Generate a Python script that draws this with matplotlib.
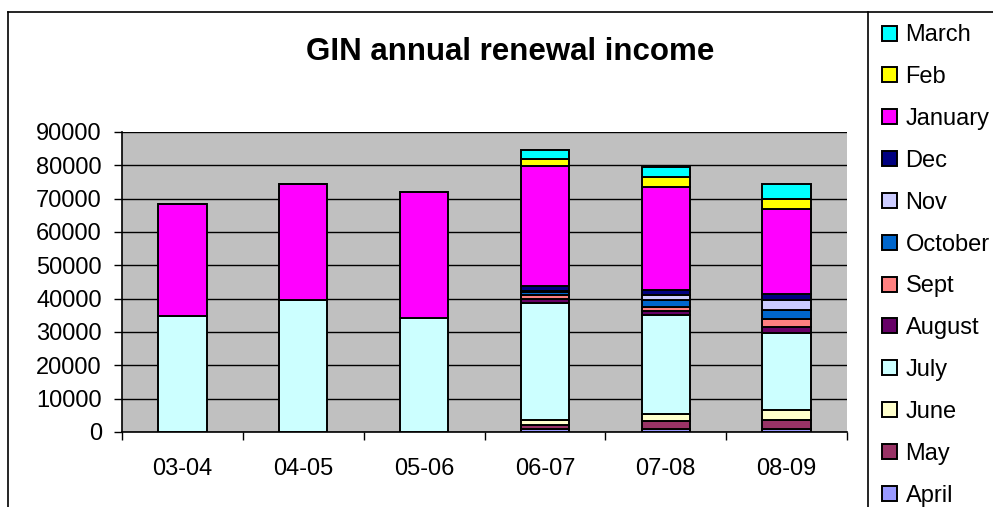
import numpy as np
import matplotlib.pyplot as plt
from matplotlib.lines import Line2D

plt.rcParams['font.family'] = ['Liberation Sans', 'DejaVu Sans']

years = ['03-04', '04-05', '05-06', '06-07', '07-08', '08-09']
months = ['April', 'May', 'June', 'July', 'August', 'Sept',
          'October', 'Nov', 'Dec', 'January', 'Feb', 'March']

april = [0, 0, 0, 1000, 900, 1000]
may = [0, 0, 0, 1100, 2400, 2600]
june = [0, 0, 0, 1500, 2100, 3000]
july = [34800, 39600, 34200, 35200, 29700, 23200]
august = [0, 0, 0, 1000, 1300, 1700]
sept = [0, 0, 0, 1200, 1000, 2500]
october = [0, 0, 0, 1100, 2100, 2600]
nov = [0, 0, 0, 300, 1600, 2900]
dec = [0, 0, 0, 1300, 1600, 1900]
january = [33600, 34700, 37800, 36200, 30800, 25600]
feb = [0, 0, 0, 2000, 3000, 3000]
march = [0, 0, 0, 2600, 3100, 4300]

series = [april, may, june, july, august, sept, october, nov, dec, january, feb, march]
colors = ['#9999FF', '#993366', '#FFFFCC', '#CCFFFF', '#660066', '#FF8080',
          '#0066CC', '#CCCCFF', '#000080', '#FF00FF', '#FFFF00', '#00FFFF']

fig = plt.figure(figsize=(9.93, 5.07), dpi=100)
ax = fig.add_axes([122 / 993, 75 / 507, 725 / 993, 300 / 507])
ax.set_facecolor('#C0C0C0')

x = np.arange(len(years))
bottom = np.zeros(len(years))
handles = []
for name, vals, col in zip(months, series, colors):
    vals = np.array(vals, dtype=float)
    b = ax.bar(x, vals, width=0.4, bottom=bottom, color=col,
               edgecolor='black', linewidth=1.4, label=name, zorder=3)
    handles.append(b)
    bottom += vals

ax.set_xlim(-0.5, len(years) - 0.5)
ax.set_ylim(0, 90000)
ax.set_yticks(np.arange(0, 90001, 10000))
ax.yaxis.grid(True, color='black', linewidth=1.0, zorder=0)
ax.set_axisbelow(True)

ax.set_xticks(x)
ax.set_xticklabels(years)
ax.set_xticks(np.arange(-0.5, len(years), 1), minor=True)
ax.tick_params(axis='x', which='major', length=0, pad=19, labelsize=17)
ax.tick_params(axis='x', which='minor', length=6, width=1, color='black', direction='out')
ax.tick_params(axis='y', length=6, width=1, pad=8.5, labelsize=17, direction='out')

for s in ['top', 'right']:
    ax.spines[s].set_visible(False)
ax.spines['left'].set_linewidth(1.2)
ax.spines['bottom'].set_linewidth(1.2)

fig.text(510 / 993, 1 - 52 / 507, 'GIN annual renewal income', ha='center', va='center',
         fontsize=22.5, fontweight='bold')

leg = fig.legend(handles[::-1], months[::-1], loc='upper left',
                 bbox_to_anchor=(873 / 993, 1 - 15 / 507), frameon=False,
                 fontsize=17, handlelength=0.6, handleheight=0.6,
                 handletextpad=0.38, labelspacing=0.84, borderaxespad=0)

# chart area outline
fig.add_artist(Line2D([8 / 993, 1], [1 - 12 / 507, 1 - 12 / 507], color='black', linewidth=1.2))
fig.add_artist(Line2D([8 / 993, 8 / 993], [0, 1 - 12 / 507], color='black', linewidth=1.2))
fig.add_artist(Line2D([868 / 993, 868 / 993], [0, 1 - 12 / 507], color='black', linewidth=1.2))

fig.savefig('out.png', dpi=100)
